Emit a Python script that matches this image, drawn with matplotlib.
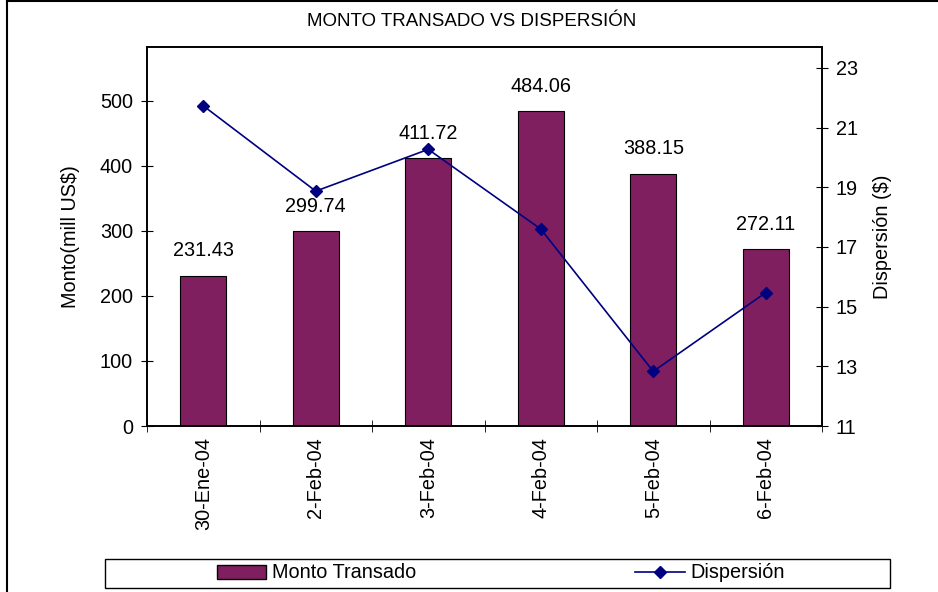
import matplotlib.pyplot as plt
from matplotlib.patches import Rectangle
from matplotlib.lines import Line2D

plt.rcParams['font.family'] = ['Liberation Sans', 'DejaVu Sans']

fechas = ['30-Ene-04', '2-Feb-04', '3-Feb-04', '4-Feb-04', '5-Feb-04', '6-Feb-04']
monto = [231.43, 299.74, 411.72, 484.06, 388.15, 272.11]
dispersion = [21.73, 18.87, 20.27, 17.6, 12.83, 15.47]

bar_color = '#7F1F5F'
line_color = '#000080'
fs = 14.3

fig = plt.figure(figsize=(9.38, 5.92), dpi=100)
ax = fig.add_axes([147 / 938, 1 - 426 / 592, 675 / 938, 379 / 592])
ax2 = ax.twinx()

x = range(len(fechas))
ax.bar(x, monto, width=0.41, color=bar_color, edgecolor='black', linewidth=0.8, zorder=2)
for i, v in enumerate(monto):
    ax.text(i, v + 24, f'{v:.2f}', ha='center', va='bottom', fontsize=fs)

ax2.plot(x, dispersion, color=line_color, marker='D', markersize=6.5, linewidth=1.2)

ax.set_xlim(-0.5, len(fechas) - 0.5)
ax.set_ylim(0, 583)
ax.set_yticks(range(0, 501, 100))
ax2.set_ylim(11, 23.7)
ax2.set_yticks(range(11, 24, 2))

ax.set_xticks(list(x))
ax.set_xticks([i + 0.5 for i in range(-1, len(fechas))], minor=True)
ax.set_xticklabels(fechas, rotation=90, fontsize=fs)
ax.tick_params(axis='y', labelsize=fs, direction='inout', length=8, pad=6)
ax.tick_params(axis='x', which='major', length=0, pad=8)
ax.tick_params(axis='x', which='minor', direction='inout', length=8)
ax2.tick_params(axis='y', labelsize=fs, direction='inout', length=8, pad=6)

ax.set_ylabel('Monto(mill US$)', fontsize=fs)
ax.yaxis.set_label_coords((80 - 147) / 675, 0.5)
ax2.set_ylabel('Dispersión ($)', fontsize=fs)
ax2.yaxis.set_label_coords((873 - 147) / 675, 0.5)

for a in (ax, ax2):
    for s in a.spines.values():
        s.set_linewidth(1.2)

fig.text(472 / 938, 1 - 22 / 592, 'MONTO TRANSADO VS DISPERSIÓN', ha='center', va='center',
         fontsize=13.5)

# recuadro de la leyenda
fig.patches.append(Rectangle((105 / 938, 1 - 588 / 592), 785 / 938, 29 / 592,
                             transform=fig.transFigure, fill=False, edgecolor='black', linewidth=1))
handles = [Rectangle((0, 0), 1, 1, facecolor=bar_color, edgecolor='black', linewidth=1),
           Line2D([], [], color=line_color, marker='D', markersize=6.5, linewidth=1.2)]
fig.legend(handles, ['Monto Transado', 'Dispersión'], ncol=2, frameon=False,
           loc='center', bbox_to_anchor=(501 / 938, 1 - 573 / 592), fontsize=fs,
           handlelength=2.5, handletextpad=0.3, columnspacing=11)

# marco de la figura (solo izquierda y arriba visibles)
fig.lines.append(Line2D([7 / 938, 7 / 938], [0, 1 - 1 / 592], transform=fig.transFigure,
                        color='black', linewidth=1.5))
fig.lines.append(Line2D([7 / 938, 1], [1 - 1 / 592, 1 - 1 / 592], transform=fig.transFigure,
                        color='black', linewidth=1.5))

fig.savefig('out.png', dpi=100)
